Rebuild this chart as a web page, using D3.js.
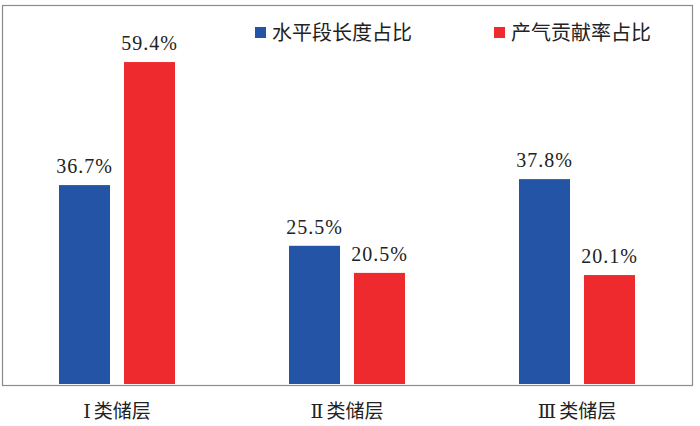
<!DOCTYPE html>
<html><head><meta charset="utf-8">
<script src="https://cdn.jsdelivr.net/npm/d3@7"></script>
<style>body{margin:0;background:#fff}</style>
</head><body>
<svg id="c" width="700" height="426"></svg>
<script>
const categories = ["Ⅰ类储层", "Ⅱ类储层", "Ⅲ类储层"];
const seriesNames = ["水平段长度占比", "产气贡献率占比"];
const lengthShare = [36.7, 25.5, 37.8];
const gasShare = [59.4, 20.5, 20.1];
const colors = ["#2454a6", "#ee2a2e"];

const svg = d3.select("#c");
const box = {l: 2, r: 692, t: 5, b: 385};
const baseline = 384;
const y = d3.scaleLinear().domain([0, 70]).range([baseline, baseline - 70 * 5.42]);
const x0 = d3.scaleBand().domain(categories).range([box.l, box.r]);
const x1 = d3.scaleBand().domain(seriesNames).range([0, 116]).paddingInner(0.215);

svg.append("rect").attr("x", box.l + 0.5).attr("y", box.t + 0.5)
  .attr("width", box.r - box.l).attr("height", box.b - box.t)
  .attr("fill", "none").attr("stroke", "#8c8c8c").attr("stroke-width", 1.2);

const data = categories.map((c, i) => ({cat: c, vals: [lengthShare[i], gasShare[i]]}));
const g = svg.selectAll("g.grp").data(data).join("g")
  .attr("transform", d => `translate(${x0(d.cat) + x0.bandwidth() / 2 - 58},0)`);

g.selectAll("rect").data(d => d.vals.map((v, j) => ({s: seriesNames[j], v, j}))).join("rect")
  .attr("x", d => x1(d.s)).attr("width", x1.bandwidth())
  .attr("y", d => y(d.v)).attr("height", d => baseline - y(d.v))
  .attr("fill", d => colors[d.j]);

g.selectAll("text.v").data(d => d.vals.map((v, j) => ({s: seriesNames[j], v, j}))).join("text")
  .attr("class", "v")
  .attr("x", d => x1(d.s) + x1.bandwidth() / 2).attr("y", d => y(d.v) - 12)
  .attr("text-anchor", "middle").attr("font-family", "Liberation Serif, serif")
  .attr("font-size", 20).attr("letter-spacing", 1).attr("fill", "#222").text(d => d.v.toFixed(1) + "%");

const cat = svg.selectAll("text.cat").data(categories).join("text").attr("class", "cat")
  .attr("x", d => x0(d) + x0.bandwidth() / 2).attr("y", 418)
  .attr("text-anchor", "middle").attr("font-family", "Noto Sans CJK SC, sans-serif")
  .attr("font-size", 19).attr("fill", "#222");
cat.append("tspan").attr("font-family", "DejaVu Serif, serif").attr("font-size", 19)
  .text(d => d.slice(0, 1));
cat.append("tspan").attr("dx", 3).text(d => d.slice(1));

const legX = [255, 494];
const lg = svg.selectAll("g.leg").data(seriesNames).join("g").attr("class", "leg")
  .attr("transform", (d, i) => `translate(${legX[i]},0)`);
lg.append("rect").attr("x", 0).attr("y", 27).attr("width", 11).attr("height", 11)
  .attr("fill", (d, i) => colors[i]);
lg.append("text").attr("x", 17).attr("y", 40).attr("font-family", "Noto Sans CJK SC, sans-serif")
  .attr("font-size", 20).attr("fill", "#222").text(d => d);
</script>
</body></html>
